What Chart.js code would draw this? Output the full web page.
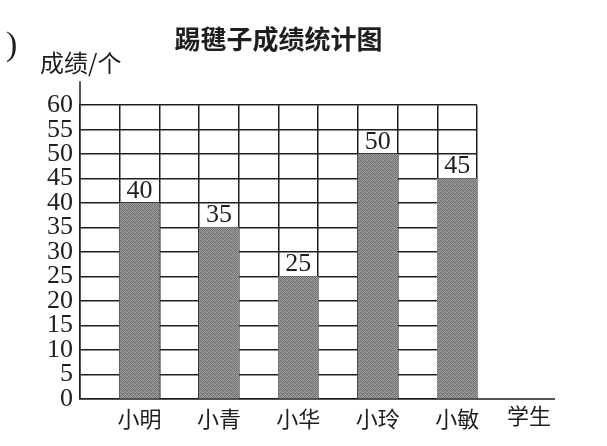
<!DOCTYPE html>
<html>
<head>
<meta charset="utf-8">
<script src="https://cdn.jsdelivr.net/npm/chart.js@4.4.1/dist/chart.umd.min.js"></script>
<style>
  html, body { margin: 0; padding: 0; background: #fff; }
  #wrap { width: 607px; height: 446px; position: relative; }
</style>
</head>
<body>
<div id="wrap"><canvas id="kickChart"></canvas></div>
<script>
// data
const students = ['小明', '小青', '小华', '小玲', '小敏'];
const scores = [40, 35, 25, 50, 45];
const yMax = 60;
const yStep = 5;

const titleText = '踢毽子成绩统计图';
const yTitle = '成绩/个';
const xTitle = '学生';

// grid has an empty column before every bar
const labels = [];
const values = [];
students.forEach((name, i) => {
  labels.push('');
  values.push(null);
  labels.push(name);
  values.push(scores[i]);
});

const SERIF = '"Liberation Serif", "DejaVu Serif", serif';
const CJK = '"Noto Sans CJK SC", sans-serif';
const INK = '#1e1e1e';

// stippled gray fill like the printed bars
const makeDotPattern = () => {
  const dots = [
    '#6a6a6a', '#9a9a9a', '#7c7c7c', '#a4a4a4',
    '#a0a0a0', '#727272', '#989898', '#6e6e6e',
    '#7a7a7a', '#a2a2a2', '#686868', '#969696',
    '#9c9c9c', '#767676', '#a0a0a0', '#747474'
  ];
  const c = document.createElement('canvas');
  c.width = 4; c.height = 4;
  const g = c.getContext('2d');
  dots.forEach((col, k) => {
    g.fillStyle = col;
    g.fillRect(k % 4, Math.floor(k / 4), 1, 1);
  });
  return g.createPattern(c, 'repeat');
};

const extrasPlugin = {
  id: 'extras',
  afterDatasetsDraw(chart) {
    const { ctx } = chart;
    const meta = chart.getDatasetMeta(0);
    ctx.save();
    ctx.font = '26px ' + SERIF;
    ctx.fillStyle = INK;
    ctx.textAlign = 'center';
    ctx.textBaseline = 'bottom';
    meta.data.forEach((bar, i) => {
      const v = values[i];
      if (v === null) return;
      ctx.fillText(String(v), bar.x, bar.y + 1);
    });
    ctx.restore();
  },
  afterDraw(chart) {
    const { ctx, chartArea: { left, right, top, bottom } } = chart;
    ctx.save();
    ctx.strokeStyle = INK;
    ctx.lineWidth = 1.5;
    // axis lines running past the grid
    ctx.beginPath();
    ctx.moveTo(left, top);
    ctx.lineTo(left, top - 24);
    ctx.moveTo(right, bottom);
    ctx.lineTo(right + 78, bottom);
    ctx.stroke();

    ctx.fillStyle = INK;
    ctx.textBaseline = 'middle';
    ctx.textAlign = 'left';
    ctx.font = '24px ' + CJK;
    ctx.fillText(yTitle, 40, 63);
    ctx.font = '22px ' + CJK;
    ctx.fillText(xTitle, right + 30, bottom + 17);
    ctx.font = '34px ' + SERIF;
    ctx.fillText(')', 6, 46);
    ctx.restore();
  }
};

new Chart(document.getElementById('kickChart'), {
  type: 'bar',
  data: {
    labels: labels,
    datasets: [{
      data: values,
      backgroundColor: makeDotPattern(),
      borderWidth: 0,
      barPercentage: 1,
      categoryPercentage: 1
    }]
  },
  plugins: [extrasPlugin],
  options: {
    responsive: true,
    maintainAspectRatio: false,
    animation: false,
    layout: { padding: { left: 0, right: 130, top: 0, bottom: 0 } },
    plugins: {
      legend: { display: false },
      tooltip: { enabled: false },
      title: {
        display: true,
        text: titleText,
        fullSize: false,
        color: INK,
        font: { family: CJK, size: 26, weight: 'bold' },
        padding: { top: 24, bottom: 50 }
      }
    },
    scales: {
      x: {
        z: 1,
        grid: { offset: true, color: INK, lineWidth: 1.5, drawTicks: false },
        border: { color: INK, width: 1.5 },
        ticks: {
          autoSkip: false,
          maxRotation: 0,
          padding: 6,
          color: INK,
          font: { family: CJK, size: 22 }
        },
        afterFit(scale) { scale.height = 47; }
      },
      y: {
        z: 1,
        min: 0,
        max: yMax,
        grid: { color: INK, lineWidth: 1.5, drawTicks: false },
        border: { color: INK, width: 1.5 },
        ticks: {
          stepSize: yStep,
          autoSkip: false,
          padding: 7,
          color: INK,
          font: { family: SERIF, size: 26 }
        },
        afterFit(scale) { scale.width = 80; }
      }
    }
  }
});
</script>
</body>
</html>
